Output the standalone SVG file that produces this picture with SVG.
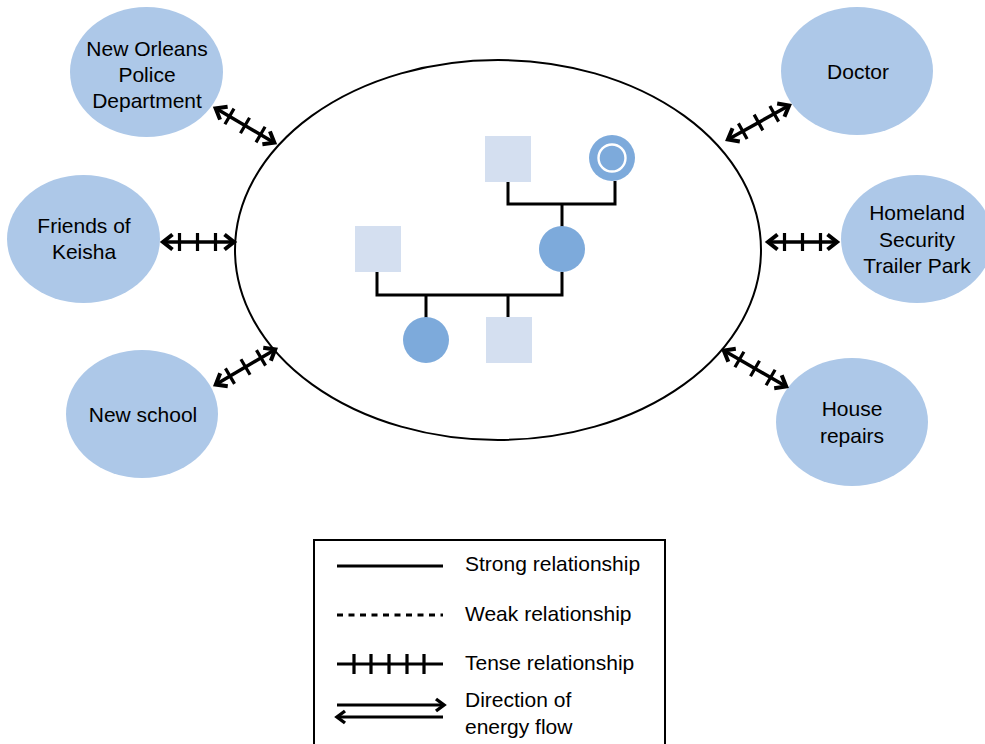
<svg xmlns="http://www.w3.org/2000/svg" width="985" height="744" viewBox="0 0 985 744">
  <style>
    .node { fill: #adc8e8; }
    .lbl { font-family: "Liberation Sans", Arial, sans-serif; font-size: 21px; fill: #000; }
    .mid { text-anchor: middle; }
    .male { fill: #d4dff0; }
    .female { fill: #7daadb; }
    .kin { fill: none; stroke: #000; stroke-width: 3; }
    .tense { stroke: #000; stroke-width: 3.5; fill: none; }
    .tick { stroke: #000; stroke-width: 3.2; }
  </style>
  <defs>
    <marker id="ah" viewBox="-14 -11 19 22" refX="0" refY="0" markerWidth="19" markerHeight="22" markerUnits="userSpaceOnUse" orient="auto-start-reverse">
      <path d="M-9.5,-7.5 L0,0 L-9.5,7.5" fill="none" stroke="#000" stroke-width="4"/>
    </marker>
    <marker id="ahs" viewBox="-13 -10 17 20" refX="0" refY="0" markerWidth="17" markerHeight="20" markerUnits="userSpaceOnUse" orient="auto-start-reverse">
      <path d="M-8,-6 L0,0 L-8,6" fill="none" stroke="#000" stroke-width="3.4"/>
    </marker>
  </defs>

  <rect width="985" height="744" fill="#fff"/>

  <!-- household boundary -->
  <g id="household">
    <ellipse cx="498" cy="250" rx="263" ry="190" fill="none" stroke="#000" stroke-width="2"/>
  </g>

  <!-- genogram -->
  <g id="genogram">
    <path class="kin" d="M508,182 V204 H615 V181"/>
    <path class="kin" d="M562,204 V227"/>
    <path class="kin" d="M377,272 V295 H562 V272"/>
    <path class="kin" d="M426,295 V318"/>
    <path class="kin" d="M508,295 V317"/>
    <g id="grandfather"><rect class="male" x="485" y="136" width="46" height="46"/></g>
    <g id="grandmother">
      <circle class="female" cx="612" cy="158" r="23"/>
      <circle cx="612" cy="158" r="13.5" fill="none" stroke="#fff" stroke-width="2.4"/>
    </g>
    <g id="father"><rect class="male" x="355" y="226" width="46" height="46"/></g>
    <g id="mother"><circle class="female" cx="562" cy="249" r="23"/></g>
    <g id="daughter"><circle class="female" cx="426" cy="340" r="23"/></g>
    <g id="son"><rect class="male" x="486" y="317" width="46" height="46"/></g>
  </g>

  <!-- outside systems -->
  <g id="nopd">
    <ellipse class="node" cx="146.5" cy="72" rx="76.5" ry="65"/>
    <text class="lbl mid" x="147" y="55.5">New Orleans</text>
    <text class="lbl mid" x="147" y="81.5">Police</text>
    <text class="lbl mid" x="147" y="108">Department</text>
  </g>
  <g id="friends">
    <ellipse class="node" cx="83.5" cy="239" rx="76.5" ry="64"/>
    <text class="lbl mid" x="84" y="232.5">Friends of</text>
    <text class="lbl mid" x="84" y="258.5">Keisha</text>
  </g>
  <g id="school">
    <ellipse class="node" cx="142" cy="414" rx="76" ry="64"/>
    <text class="lbl mid" x="143" y="421.5">New school</text>
  </g>
  <g id="doctor">
    <ellipse class="node" cx="857" cy="71" rx="76" ry="64"/>
    <text class="lbl mid" x="858" y="78.5">Doctor</text>
  </g>
  <g id="trailer">
    <ellipse class="node" cx="917" cy="239" rx="76" ry="64"/>
    <text class="lbl mid" x="917" y="219.5">Homeland</text>
    <text class="lbl mid" x="917" y="246.5">Security</text>
    <text class="lbl mid" x="917" y="272.5">Trailer Park</text>
  </g>
  <g id="repairs">
    <ellipse class="node" cx="852" cy="422" rx="76" ry="64"/>
    <text class="lbl mid" x="852" y="415.5">House</text>
    <text class="lbl mid" x="852" y="442.5">repairs</text>
  </g>

  <!-- tense two-way connectors -->
  <g id="connectors">
    <g transform="translate(245,125.5) rotate(30.3)">
      <line class="tense" x1="-34" y1="0" x2="34" y2="0" marker-start="url(#ah)" marker-end="url(#ah)"/>
      <path class="tick" d="M-18,-9 V9 M0,-9 V9 M18,-9 V9"/>
    </g>
    <g transform="translate(198.5,242)">
      <line class="tense" x1="-35.5" y1="0" x2="35.5" y2="0" marker-start="url(#ah)" marker-end="url(#ah)"/>
      <path class="tick" d="M-19,-9 V9 M-1,-9 V9 M17,-9 V9"/>
    </g>
    <g transform="translate(245.5,367) rotate(-30.5)">
      <line class="tense" x1="-34.5" y1="0" x2="34.5" y2="0" marker-start="url(#ah)" marker-end="url(#ah)"/>
      <path class="tick" d="M-18,-9 V9 M0,-9 V9 M18,-9 V9"/>
    </g>
    <g transform="translate(758.5,122.5) rotate(-29)">
      <line class="tense" x1="-35" y1="0" x2="35" y2="0" marker-start="url(#ah)" marker-end="url(#ah)"/>
      <path class="tick" d="M-18,-9 V9 M0,-9 V9 M18,-9 V9"/>
    </g>
    <g transform="translate(802.5,242)">
      <line class="tense" x1="-34.5" y1="0" x2="34.5" y2="0" marker-start="url(#ah)" marker-end="url(#ah)"/>
      <path class="tick" d="M-18,-9 V9 M0,-9 V9 M18,-9 V9"/>
    </g>
    <g transform="translate(755,368.5) rotate(30)">
      <line class="tense" x1="-36" y1="0" x2="36" y2="0" marker-start="url(#ah)" marker-end="url(#ah)"/>
      <path class="tick" d="M-18,-9 V9 M0,-9 V9 M18,-9 V9"/>
    </g>
  </g>

  <!-- legend -->
  <g id="legend">
    <rect x="314" y="540" width="351" height="220" fill="#fff" stroke="#000" stroke-width="2"/>
    <line x1="337" y1="566" x2="443" y2="566" stroke="#000" stroke-width="3"/>
    <line x1="337" y1="615" x2="443" y2="615" stroke="#000" stroke-width="3" stroke-dasharray="6 5.5"/>
    <line x1="337" y1="664" x2="443" y2="664" stroke="#000" stroke-width="3"/>
    <path class="tick" d="M354,654 V674 M371,654 V674 M389,654 V674 M407,654 V674 M424,654 V674"/>
    <line x1="337" y1="705" x2="444" y2="705" stroke="#000" stroke-width="3" marker-end="url(#ahs)"/>
    <line x1="337" y1="717" x2="443" y2="717" stroke="#000" stroke-width="3" marker-start="url(#ahs)"/>
    <text class="lbl" x="465" y="571">Strong relationship</text>
    <text class="lbl" x="465" y="621">Weak relationship</text>
    <text class="lbl" x="465" y="670">Tense relationship</text>
    <text class="lbl" x="465" y="707">Direction of</text>
    <text class="lbl" x="465" y="734">energy flow</text>
  </g>
</svg>
